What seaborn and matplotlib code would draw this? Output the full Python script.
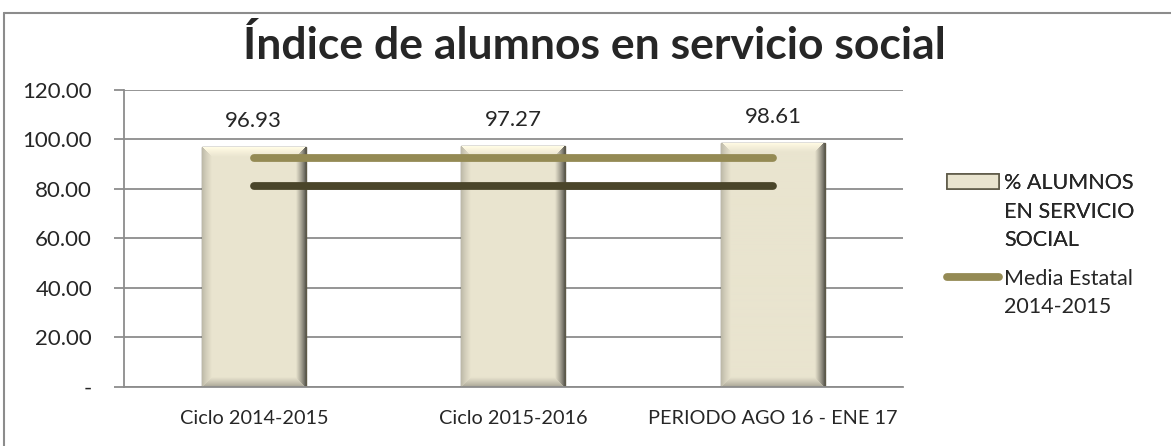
import numpy as np
import pandas as pd
import matplotlib
matplotlib.use("Agg")
import matplotlib.pyplot as plt
from matplotlib.patches import Patch
from matplotlib.lines import Line2D
from matplotlib.colors import to_rgb
import seaborn as sns

sns.set_style("white")
plt.rcParams['font.family'] = ['Lato', 'DejaVu Sans']

# data
ciclos = ['Ciclo 2014-2015', 'Ciclo 2015-2016', 'PERIODO AGO 16 - ENE 17']
alumnos = [96.93, 97.27, 98.61]
media_estatal = [92.5, 92.5, 92.5]
media_2 = [81.2, 81.2, 81.2]
yticks = [0, 20, 40, 60, 80, 100, 120]

bar_color = '#E9E4CF'
olive = '#948A54'
dark_olive = '#4A452A'
grid_gray = '#8C8C8C'

d = pd.DataFrame({'ciclo': ciclos, 'valor': alumnos})

fig = plt.figure(figsize=(11.71, 4.46), dpi=100)
ax = fig.add_axes([0.1059, 0.1323, 0.665, 0.666])

sns.barplot(data=d, x='ciclo', y='valor', color=bar_color, width=0.4,
            edgecolor='#5E5A48', linewidth=1.0, saturation=1, ax=ax, zorder=2)

ax.set_ylim(0, 120)
ax.set_xlim(-0.5, len(ciclos) - 0.5)


def bevel(patch, base, bw=10):
    # beveled look like the office chart: light top, dark right/bottom
    fig.canvas.draw()
    bb = patch.get_window_extent()
    w, h = max(int(round(bb.width)), 2), max(int(round(bb.height)), 2)
    xx = np.arange(w)[None, :] + 0.5
    yy = np.arange(h)[:, None] + 0.5
    dl = np.broadcast_to(xx, (h, w))
    dr = np.broadcast_to(w - xx, (h, w))
    dt = np.broadcast_to(yy, (h, w))
    db = np.broadcast_to(h - yy, (h, w))
    dist = np.stack([dl, dr, dt, db])
    which = dist.argmin(axis=0)
    dmin = dist.min(axis=0)
    edge_f = np.array([0.80, 0.35, 1.12, 0.70])
    t = np.clip(dmin / bw, 0, 1) ** 0.8
    f = np.where(dmin < bw, edge_f[which] + (1 - edge_f[which]) * t, 1.0)
    rgb = np.clip(np.array(to_rgb(base))[None, None, :] * f[:, :, None], 0, 1)
    x0, y0 = patch.get_x(), patch.get_y()
    im = ax.imshow(rgb, extent=(x0, x0 + patch.get_width(), y0, y0 + patch.get_height()),
                   origin='upper', aspect='auto', interpolation='bilinear', zorder=2.1)
    im.set_clip_path(patch)


for p in list(ax.patches):
    bevel(p, bar_color)
ax.set_xlim(-0.5, len(ciclos) - 0.5)
ax.set_ylim(0, 120)

pos = np.arange(len(ciclos))
ax.plot(pos, media_estatal, color=olive, lw=5.6, solid_capstyle='round', zorder=3)
ax.plot(pos, media_2, color=dark_olive, lw=5.6, solid_capstyle='round', zorder=3)

for x, v in zip(pos, alumnos):
    ax.text(x, v + 10.5, '%.2f' % v, ha='center', va='center', fontsize=16)

ax.set_yticks(yticks)
ax.set_yticklabels(['-' if t == 0 else '%.2f' % t for t in yticks], fontsize=16)
ax.set_xticks(pos)
ax.set_xticklabels(ciclos, fontsize=14.3)
ax.set_xlabel('')
ax.set_ylabel('')
ax.yaxis.grid(True, color=grid_gray, lw=1.3)
ax.set_axisbelow(True)

ax.set_xticks(np.arange(len(ciclos) + 1) - 0.5, minor=True)
ax.tick_params(axis='x', which='major', length=0, pad=16.5)
ax.tick_params(axis='x', which='minor', length=7, width=1.3, color=grid_gray, direction='out')
ax.tick_params(axis='y', length=7, width=1.3, color=grid_gray, direction='out', left=True, pad=16)
for s in ['top', 'right']:
    ax.spines[s].set_visible(False)
for s in ['left', 'bottom']:
    ax.spines[s].set_color(grid_gray)
    ax.spines[s].set_linewidth(1.3)

fig.text(0.508, 0.897, 'Índice de alumnos en servicio social', ha='center', va='center',
         fontsize=32, fontweight='bold')

# legend: handle next to first line of each wrapped label
blank = Patch(alpha=0)
leg_kw = dict(loc='upper left', frameon=False, fontsize=15.5, handlelength=2.4,
              handleheight=0.7, handletextpad=0.25, labelspacing=0.38,
              borderpad=0, borderaxespad=0)
leg1 = fig.legend([Patch(facecolor=bar_color, edgecolor='#5E5A48', linewidth=1.2), blank, blank],
                  ['% ALUMNOS', 'EN SERVICIO', 'SOCIAL'],
                  bbox_to_anchor=(0.8087, 0.611), **leg_kw)
fig.add_artist(leg1)
fig.legend([Line2D([], [], color=olive, lw=5.6, solid_capstyle='round'), blank],
           ['Media Estatal', '2014-2015'],
           bbox_to_anchor=(0.8087, 0.397), **leg_kw)

# outer chart frame (top and left edges visible in the crop)
fig.add_artist(Line2D([0.003, 1.0], [0.971, 0.971], color='#8C8C8C', lw=1.5))
fig.add_artist(Line2D([0.003, 0.003], [0.0, 0.971], color='#8C8C8C', lw=1.5))

fig.savefig('out.png', dpi=100)
